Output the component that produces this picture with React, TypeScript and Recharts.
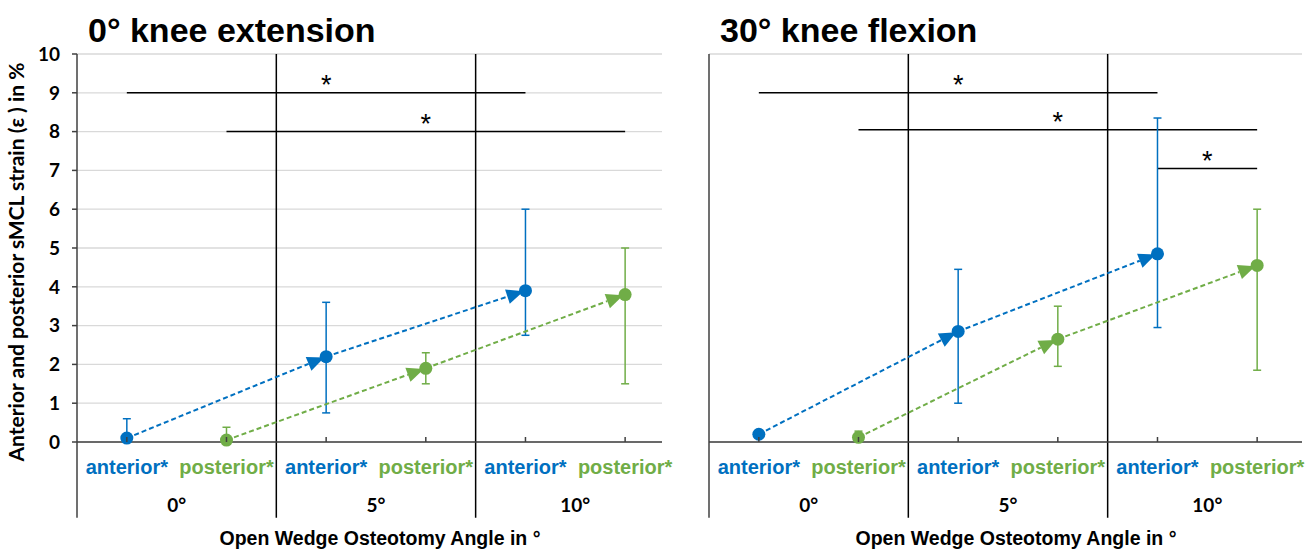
import React from "react";
import {
  ComposedChart,
  Scatter,
  XAxis,
  YAxis,
  CartesianGrid,
  ErrorBar,
  ReferenceLine,
} from "recharts";

const BLUE = "#0070C0";
const GREEN = "#70AD47";
const AXIS = "#404040";
const GRID = "#d9d9d9";
const ARIAL = "'Liberation Sans', Arial, sans-serif";
const CALIBRI = "Lato, 'Noto Sans', sans-serif";

const groups = ["0°", "5°", "10°"];
const sides = ["anterior*", "posterior*"];
const yTicks = [0, 1, 2, 3, 4, 5, 6, 7, 8, 9, 10];

// 0° knee extension
const extAnterior = [0.1, 2.2, 3.9];
const extAnteriorLow = [0, 0.75, 2.75];
const extAnteriorHigh = [0.6, 3.6, 6.0];
const extPosterior = [0.05, 1.9, 3.8];
const extPosteriorLow = [0, 1.5, 1.5];
const extPosteriorHigh = [0.38, 2.3, 5.0];

// 30° knee flexion
const flexAnterior = [0.2, 2.85, 4.85];
const flexAnteriorLow = [0.1, 1.0, 2.95];
const flexAnteriorHigh = [0.3, 4.45, 8.35];
const flexPosterior = [0.12, 2.65, 4.55];
const flexPosteriorLow = [0.02, 1.95, 1.85];
const flexPosteriorHigh = [0.28, 3.5, 6.0];

// significance bars: [from category, to category, level]
const extSig = [
  [0, 4, 9],
  [1, 5, 8],
];
const flexSig = [
  [0, 4, 9],
  [1, 5, 8.05],
  [4, 5, 7.05],
];

const catTicks = groups.flatMap((_, g) => sides.map((_, s) => 2 * g + s + 0.5));
const groupTicks = groups.map((_, g) => 2 * g + 1);

function series(side: number, vals: number[], low: number[], high: number[]) {
  return vals.map((v, g) => ({
    x: 2 * g + side + 0.5,
    y: v,
    err: [v - low[g], high[g] - v],
  }));
}

const arrowLine = (color: string) => (props: any) => {
  const pts = props.points || [];
  const parts = [];
  for (let i = 1; i < pts.length; i++) {
    const a = pts[i - 1];
    const b = pts[i];
    const dx = b.x - a.x;
    const dy = b.y - a.y;
    const len = Math.hypot(dx, dy) || 1;
    const ux = dx / len;
    const uy = dy / len;
    const tx = b.x - ux * 2;
    const ty = b.y - uy * 2;
    const bx = tx - ux * 17;
    const by = ty - uy * 17;
    const px = -uy * 7.5;
    const py = ux * 7.5;
    parts.push(
      <g key={i}>
        <line x1={a.x} y1={a.y} x2={bx} y2={by} stroke={color} strokeWidth={2} strokeDasharray="5 3" />
        <polygon points={`${tx},${ty} ${bx + px},${by + py} ${bx - px},${by - py}`} fill={color} />
      </g>
    );
  }
  return <g>{parts}</g>;
};

const dot = (color: string) => (p: any) => <circle cx={p.cx} cy={p.cy} r={6.5} fill={color} />;

const CatTick = (props: any) => {
  const { x, y, payload } = props;
  const side = Math.floor(payload.value) % 2;
  return (
    <g>
      <line x1={x} x2={x} y1={y - 5} y2={y} stroke={AXIS} strokeWidth={1.5} />
      <text x={x} y={y + 32} textAnchor="middle" fill={side === 0 ? BLUE : GREEN} fontFamily={ARIAL} fontWeight={700} fontSize={20}>
        {sides[side]}
      </text>
    </g>
  );
};

const GroupTick = (props: any) => {
  const { x, y, payload } = props;
  return (
    <text x={x} y={y + 20} textAnchor="middle" fill="#000" fontFamily={CALIBRI} fontWeight={700} fontSize={19}>
      {groups[(payload.value - 1) / 2]}
    </text>
  );
};

type PanelProps = {
  width: number;
  xMax: number;
  yWidth: number;
  right: number;
  showLabels: boolean;
  anterior: any[];
  posterior: any[];
  sig: number[][];
};

function Panel({ width, xMax, yWidth, right, showLabels, anterior, posterior, sig }: PanelProps) {
  return (
    <ComposedChart width={width} height={551} margin={{ top: 54, right, bottom: 29, left: 0 }}>
      <CartesianGrid vertical={false} stroke={GRID} strokeWidth={1.3} />
      <XAxis
        type="number"
        dataKey="x"
        domain={[0, xMax]}
        allowDataOverflow
        ticks={catTicks}
        interval={0}
        height={50}
        tickLine={false}
        tickSize={0}
        tickMargin={0}
        axisLine={{ stroke: AXIS, strokeWidth: 1.5 }}
        tick={<CatTick />}
      />
      <XAxis
        xAxisId="grp"
        type="number"
        dataKey="x"
        domain={[0, xMax]}
        allowDataOverflow
        ticks={groupTicks}
        interval={0}
        height={30}
        tickLine={false}
        tickSize={0}
        tickMargin={0}
        axisLine={false}
        tick={<GroupTick />}
      />
      <YAxis
        type="number"
        domain={[0, 10]}
        ticks={yTicks}
        interval={0}
        width={yWidth}
        tickSize={5}
        tickMargin={12}
        axisLine={{ stroke: AXIS, strokeWidth: 1.5 }}
        tickLine={{ stroke: AXIS, strokeWidth: 1.5 }}
        tick={showLabels ? { fill: "#000", fontSize: 19, fontWeight: 700, fontFamily: CALIBRI } : false}
      />
      {[0, 2, 4].map((x) => (
        <ReferenceLine
          key={x}
          ifOverflow="visible"
          segment={[
            { x, y: x === 0 ? 0 : 10 },
            { x, y: -1.95 },
          ]}
          stroke={x === 0 ? AXIS : "#000"}
          strokeWidth={1.5}
        />
      ))}
      {sig.map(([a, b, lvl], i) => (
        <ReferenceLine
          key={"s" + i}
          ifOverflow="visible"
          segment={[
            { x: a + 0.5, y: lvl },
            { x: b + 0.5, y: lvl },
          ]}
          stroke="#000"
          strokeWidth={1.5}
          label={{ value: "*", position: "center", dy: -8, fill: "#000", fontSize: 27, fontFamily: ARIAL }}
        />
      ))}
      <Scatter data={anterior} dataKey="y" fill={BLUE} line={arrowLine(BLUE)} shape={dot(BLUE)} isAnimationActive={false}>
        <ErrorBar dataKey="err" direction="y" width={4} stroke={BLUE} strokeWidth={1.5} />
      </Scatter>
      <Scatter data={posterior} dataKey="y" fill={GREEN} line={arrowLine(GREEN)} shape={dot(GREEN)} isAnimationActive={false}>
        <ErrorBar dataKey="err" direction="y" width={4} stroke={GREEN} strokeWidth={1.5} />
      </Scatter>
    </ComposedChart>
  );
}

export default function App() {
  return (
    <div style={{ position: "absolute", left: 0, top: 0, width: 1307, height: 551, background: "#fff" }}>
      <div style={{ position: "absolute", left: 0, top: 0 }}>
        <Panel
          width={680}
          xMax={5.87}
          yWidth={77}
          right={18}
          showLabels
          anterior={series(0, extAnterior, extAnteriorLow, extAnteriorHigh)}
          posterior={series(1, extPosterior, extPosteriorLow, extPosteriorHigh)}
          sig={extSig}
        />
      </div>
      <div style={{ position: "absolute", left: 680, top: 0 }}>
        <Panel
          width={627}
          xMax={5.95}
          yWidth={29}
          right={5}
          showLabels={false}
          anterior={series(0, flexAnterior, flexAnteriorLow, flexAnteriorHigh)}
          posterior={series(1, flexPosterior, flexPosteriorLow, flexPosteriorHigh)}
          sig={flexSig}
        />
      </div>
      <svg width={1307} height={551} style={{ position: "absolute", left: 0, top: 0, pointerEvents: "none" }}>
        <text x={88} y={42} fontFamily={ARIAL} fontWeight={700} fontSize={34} fill="#000">
          0° knee extension
        </text>
        <text x={720} y={42} fontFamily={ARIAL} fontWeight={700} fontSize={34} fill="#000">
          30° knee flexion
        </text>
        <text
          x={24}
          y={262}
          transform="rotate(-90 24 262)"
          textAnchor="middle"
          fontFamily={CALIBRI}
          fontWeight={700}
          fontSize={21}
          fill="#000"
        >
          Anterior and posterior sMCL strain (ε ) in %
        </text>
        <text x={380} y={545} textAnchor="middle" fontFamily={ARIAL} fontWeight={700} fontSize={19.5} fill="#000">
          Open Wedge Osteotomy Angle in °
        </text>
        <text x={1016} y={545} textAnchor="middle" fontFamily={ARIAL} fontWeight={700} fontSize={19.5} fill="#000">
          Open Wedge Osteotomy Angle in °
        </text>
      </svg>
    </div>
  );
}
